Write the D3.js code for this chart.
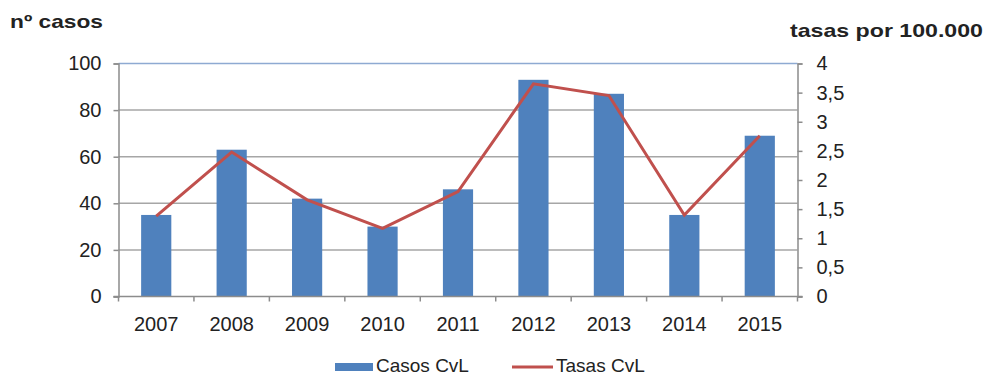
<!DOCTYPE html>
<html>
<head>
<meta charset="utf-8">
<script src="https://cdn.jsdelivr.net/npm/d3@7"></script>
<style>
  html, body { margin: 0; padding: 0; background: #fff; }
  svg { display: block; font-family: "Liberation Sans", Arial, sans-serif; }
</style>
</head>
<body>
<svg id="chart" width="986" height="376"></svg>
<script>
const years = ["2007","2008","2009","2010","2011","2012","2013","2014","2015"];
const casos = [35, 63, 42, 30, 46, 93, 87, 35, 69];
const tasas = [1.38, 2.48, 1.66, 1.17, 1.80, 3.65, 3.45, 1.40, 2.76];
const leftTicks = [0, 20, 40, 60, 80, 100];
const rightTicks = [0, 0.5, 1, 1.5, 2, 2.5, 3, 3.5, 4];
const seriesNames = ["Casos CvL", "Tasas CvL"];
const axisTitles = ["nº casos", "tasas por 100.000"];

const svg = d3.select("#chart");
const m = { left: 118.5, right: 797.5, top: 63.5, bottom: 296.5 };
const fmt = d => String(d).replace(".", ",");

const x = d3.scaleBand().domain(years).range([m.left, m.right]).paddingInner(0.6).paddingOuter(0.3);
const xb = d3.scaleBand().domain(years).range([m.left, m.right]);
const yL = d3.scaleLinear().domain([0, 100]).range([m.bottom, m.top]);
const yR = d3.scaleLinear().domain([0, 4]).range([m.bottom, m.top]);

const gridColor = "#a6a6a6";
const axisColor = "#8c8c8c";

// gridlines
svg.append("g").selectAll("line").data(leftTicks.filter(d => d > 0)).join("line")
  .attr("x1", m.left).attr("x2", m.right)
  .attr("y1", d => yL(d)).attr("y2", d => yL(d))
  .attr("stroke", d => d === 100 ? "#8eaad2" : gridColor).attr("stroke-width", 1.5);

// bars
svg.append("g").selectAll("rect").data(casos).join("rect")
  .attr("x", (d, i) => x(years[i]))
  .attr("width", x.bandwidth())
  .attr("y", d => yL(d))
  .attr("height", d => yL(0) - yL(d))
  .attr("fill", "#4f81bd");

// left axis
const gl = svg.append("g").attr("transform", `translate(${m.left},0)`)
  .call(d3.axisLeft(yL).tickValues(leftTicks).tickSize(5).tickPadding(12).tickFormat(fmt));
// right axis
const gr = svg.append("g").attr("transform", `translate(${m.right},0)`)
  .call(d3.axisRight(yR).tickValues(rightTicks).tickSize(5).tickPadding(14).tickFormat(fmt));
// bottom axis
const gb = svg.append("g").attr("transform", `translate(0,${m.bottom})`)
  .call(d3.axisBottom(xb).tickSize(0).tickPadding(20));
// category boundary ticks
svg.append("g").selectAll("line").data(years.concat(["end"])).join("line")
  .attr("x1", (d, i) => i < years.length ? xb(d) : m.right)
  .attr("x2", (d, i) => i < years.length ? xb(d) : m.right)
  .attr("y1", m.bottom).attr("y2", m.bottom + 5)
  .attr("stroke", axisColor).attr("stroke-width", 1.5);

[gl, gr, gb].forEach(g => {
  g.select(".domain").attr("stroke", axisColor).attr("stroke-width", 1.5);
  g.selectAll(".tick line").attr("stroke", axisColor).attr("stroke-width", 1.5);
  g.selectAll(".tick text").attr("fill", "#222").style("font-size", "20px");
});
gb.select(".domain").remove();
svg.append("line").attr("x1", m.left - 5).attr("x2", m.right + 5)
  .attr("y1", m.bottom).attr("y2", m.bottom)
  .attr("stroke", axisColor).attr("stroke-width", 1.5);

// line
const line = d3.line().x((d, i) => xb(years[i]) + xb.bandwidth() / 2).y(d => yR(d));
svg.append("path").datum(tasas).attr("d", line)
  .attr("fill", "none").attr("stroke", "#c0504d").attr("stroke-width", 3)
  .attr("stroke-linejoin", "miter");

// axis titles
svg.append("text").attr("x", 10).attr("y", 28)
  .attr("font-weight", "bold").style("font-size", "19px").attr("fill", "#222")
  .attr("textLength", 93).attr("lengthAdjust", "spacingAndGlyphs")
  .text(axisTitles[0]);
svg.append("text").attr("x", 790).attr("y", 37)
  .attr("font-weight", "bold").style("font-size", "19px").attr("fill", "#222")
  .attr("textLength", 193).attr("lengthAdjust", "spacingAndGlyphs")
  .text(axisTitles[1]);

// legend
const lg = svg.append("g");
lg.append("rect").attr("x", 335).attr("y", 363).attr("width", 38).attr("height", 8).attr("fill", "#4f81bd");
lg.append("text").attr("x", 376).attr("y", 372).style("font-size", "19px").attr("fill", "#222").text(seriesNames[0]);
lg.append("line").attr("x1", 512).attr("x2", 553).attr("y1", 367).attr("y2", 367)
  .attr("stroke", "#c0504d").attr("stroke-width", 3);
lg.append("text").attr("x", 556).attr("y", 372).style("font-size", "19px").attr("fill", "#222").text(seriesNames[1]);
</script>
</body>
</html>
